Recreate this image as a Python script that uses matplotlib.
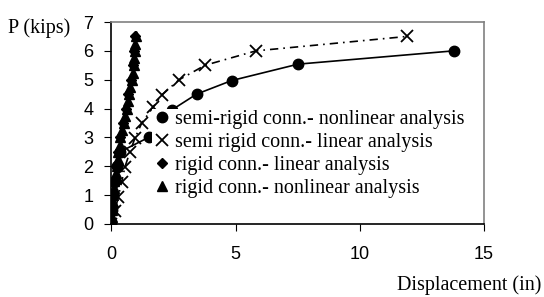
import matplotlib
matplotlib.use("Agg")
from matplotlib import pyplot as plt

# load steps (kips) and displacements (in)
semi_nl_P = [0, 0.5, 1.0, 1.5, 2.0, 2.5, 3.0, 3.45, 3.95, 4.5, 4.97, 5.54, 6.0]
semi_nl_d = [0, 0.04, 0.08, 0.13, 0.23, 0.35, 1.5, 1.9, 2.43, 3.43, 4.84, 7.52, 13.78]

semi_lin_P = [0, 0.45, 0.95, 1.47, 1.98, 2.5, 2.97, 3.49, 4.06, 4.47, 5.0, 5.5, 6.0, 6.5]
semi_lin_d = [0, 0.15, 0.28, 0.42, 0.55, 0.75, 0.95, 1.22, 1.69, 2.03, 2.73, 3.77, 5.82, 11.9]

rigid_lin_P = [0, 0.5, 1.0, 1.5, 2.0, 2.5, 3.0, 3.5, 4.0, 4.5, 5.0, 5.5, 6.0, 6.5]
rigid_lin_d = [0, 0.03, 0.07, 0.11, 0.2, 0.26, 0.35, 0.48, 0.58, 0.68, 0.78, 0.86, 0.91, 0.95]

rigid_nl_P = [0, 0.25, 0.5, 0.75, 1.0, 1.25, 1.5, 1.75, 2.0, 2.25, 2.5, 2.75, 3.0, 3.25,
              3.5, 3.75, 4.0, 4.25, 4.5, 4.75, 5.0, 5.25, 5.5, 5.75, 6.0, 6.25, 6.5]
rigid_nl_d = [0, 0.02, 0.04, 0.06, 0.08, 0.1, 0.12, 0.17, 0.22, 0.25, 0.28, 0.33, 0.37, 0.43,
              0.52, 0.57, 0.62, 0.67, 0.72, 0.77, 0.83, 0.87, 0.9, 0.93, 0.95, 0.97, 0.98]

labels = ['semi-rigid conn.- nonlinear analysis', 'semi rigid conn.- linear analysis',
          'rigid conn.- linear analysis', 'rigid conn.- nonlinear analysis']

serif = 'Liberation Serif'
sans = 'Liberation Sans'

fig = plt.figure(figsize=(5.44, 2.97), dpi=100)
ax = fig.add_axes([0.2046, 0.2458, 0.6851, 0.6801])

ax.plot(semi_nl_d, semi_nl_P, color='black', lw=1.2, marker='o', ms=7.5, label=labels[0])
ax.plot(semi_lin_d, semi_lin_P, color='black', lw=1.2, ls=(0, (5, 3, 1, 3)), marker='x',
        ms=9, mew=1.3, label=labels[1])
ax.plot(rigid_lin_d, rigid_lin_P, color='black', lw=0, marker='D', ms=5.5, label=labels[2])
ax.plot(rigid_nl_d, rigid_nl_P, color='black', lw=0, marker='^', ms=7, label=labels[3])

ax.set_xlim(0, 15)
ax.set_ylim(0, 7)
ax.set_xticks([0, 5, 10, 15])
ax.set_yticks(range(8))
ax.tick_params(axis='x', direction='out', length=5, pad=11, labelsize=13)
ax.tick_params(axis='y', direction='out', length=5, pad=8, labelsize=13)
for lab in ax.get_xticklabels() + ax.get_yticklabels():
    lab.set_fontfamily(sans)

for s in ['top', 'right']:
    ax.spines[s].set_color('#808080')
    ax.spines[s].set_linewidth(1.2)
for s in ['left', 'bottom']:
    ax.spines[s].set_color('black')
    ax.spines[s].set_linewidth(1.2)

handles, labs = ax.get_legend_handles_labels()
leg = ax.legend(handles, labs, loc='upper left', bbox_to_anchor=(0.109, 0.567),
                borderaxespad=0, borderpad=0, labelspacing=0.2, handlelength=1.0,
                handletextpad=0.15, frameon=True, fancybox=False, framealpha=1,
                prop={'family': serif, 'size': 14.5})
leg.get_frame().set_edgecolor('none')
leg.get_frame().set_facecolor('white')
for h in leg.legend_handles:
    h.set_linestyle('none')

fig.text(0.0147, 0.889, 'P (kips)', family=serif, fontsize=14.5, va='baseline', ha='left')
fig.text(0.995, 0.024, 'Displacement (in)', family=serif, fontsize=14.5, va='baseline', ha='right')

fig.savefig('out.png', dpi=100)
